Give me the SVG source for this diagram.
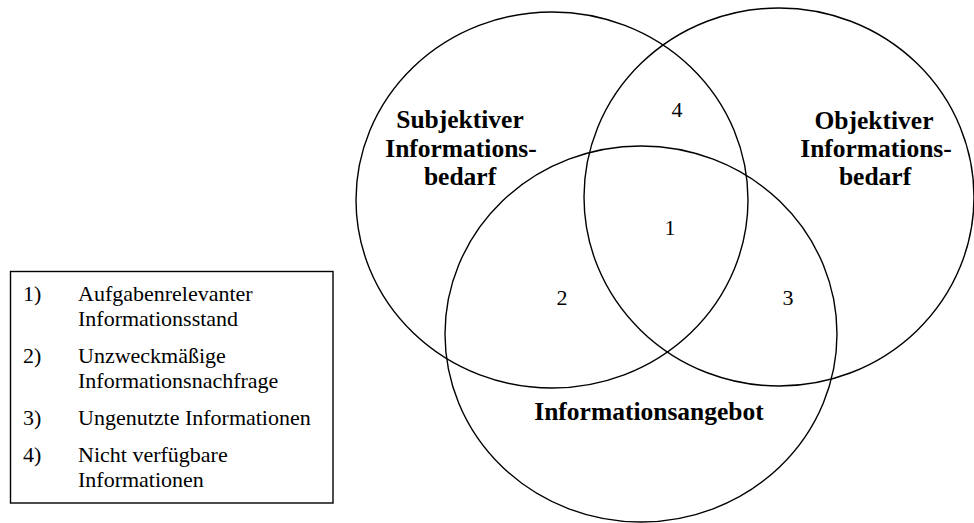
<svg xmlns="http://www.w3.org/2000/svg" width="974" height="523" viewBox="0 0 974 523">
  <style>
    .set { fill: none; stroke: #000; stroke-width: 1.4; }
    .title { font-family: "Liberation Serif", "Times New Roman", serif; font-weight: bold; font-size: 25.5px; fill: #000; text-anchor: middle; }
    .num { font-family: "Liberation Serif", "Times New Roman", serif; font-size: 22px; fill: #000; text-anchor: middle; }
    .legend { font-family: "Liberation Serif", "Times New Roman", serif; font-size: 22px; fill: #000; }
    .box { fill: #fff; stroke: #000; stroke-width: 1.4; }
  </style>
  <rect width="974" height="523" fill="#fff"/>

  <!-- Venn sets -->
  <g id="subjektiver-bedarf">
    <ellipse class="set" cx="552" cy="200" rx="196" ry="188"/>
    <text class="title" x="460" y="128">Subjektiver</text>
    <text class="title" x="461" y="157">Informations-</text>
    <text class="title" x="460" y="185">bedarf</text>
  </g>
  <g id="objektiver-bedarf">
    <ellipse class="set" cx="779" cy="197" rx="195" ry="189"/>
    <text class="title" x="874" y="129">Objektiver</text>
    <text class="title" x="876" y="157">Informations-</text>
    <text class="title" x="875" y="185">bedarf</text>
  </g>
  <g id="informationsangebot">
    <ellipse class="set" cx="641" cy="334" rx="196" ry="188"/>
    <text class="title" x="649" y="420">Informationsangebot</text>
  </g>

  <!-- Region numbers -->
  <g id="regions">
    <text class="num" x="677" y="117">4</text>
    <text class="num" x="670" y="235">1</text>
    <text class="num" x="562" y="305">2</text>
    <text class="num" x="788" y="305">3</text>
  </g>

  <!-- Legend -->
  <g id="legend">
    <rect class="box" x="10.5" y="271.5" width="322.5" height="231.5"/>
    <text class="legend" x="23" y="301">1)</text>
    <text class="legend" x="78" y="301">Aufgabenrelevanter</text>
    <text class="legend" x="78" y="326">Informationsstand</text>
    <text class="legend" x="23" y="363">2)</text>
    <text class="legend" x="78" y="363">Unzweckmäßige</text>
    <text class="legend" x="78" y="388">Informationsnachfrage</text>
    <text class="legend" x="23" y="425">3)</text>
    <text class="legend" x="78" y="425">Ungenutzte Informationen</text>
    <text class="legend" x="23" y="462">4)</text>
    <text class="legend" x="78" y="462">Nicht verfügbare</text>
    <text class="legend" x="78" y="487">Informationen</text>
  </g>
</svg>
